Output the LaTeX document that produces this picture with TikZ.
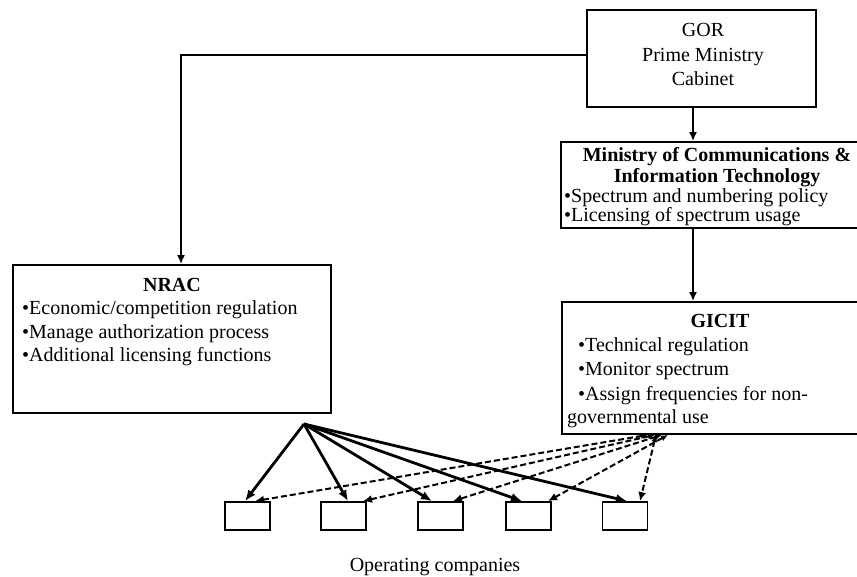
\documentclass[tikz,border=0pt]{standalone}
\usepackage{fontspec}
\setmainfont{Liberation Serif}
\usetikzlibrary{arrows.meta}
\begin{document}
\begin{tikzpicture}[x=1pt,y=-1pt,
  box/.style={draw,line width=1.8pt,inner sep=0pt},
  cbox/.style={box,minimum width=45pt,minimum height=28pt},
  t/.style={inner sep=0pt,anchor=base,font=\fontsize{20}{24}\selectfont},
  tl/.style={t,anchor=base west},
  tb/.style={t,font=\fontsize{20}{24}\selectfont\bfseries},
  arr/.style={line width=1.8pt,-{Latex[length=9pt,width=8pt]}},
  sarr/.style={line width=2.8pt,-{Latex[length=11pt,width=9pt]}},
  darr/.style={line width=2pt,dash pattern=on 6pt off 3pt,{Latex[length=7pt,width=6pt]}-{Latex[length=9pt,width=8pt]}}]
\useasboundingbox (0,0) rectangle (857,577);
\clip (0,0) rectangle (857,577);
% boxes
\node[box,minimum width=229pt,minimum height=97pt] (gor) at (701.5,58.5) {};
\node[box,minimum width=312pt,minimum height=86pt] (min) at (717,185) {};
\node[box,minimum width=316pt,minimum height=132pt] (gic) at (720,368) {};
\node[box,minimum width=318pt,minimum height=148pt] (nrac) at (172,339) {};
\node[cbox] (c1) at (247.5,516) {};
\node[cbox] (c2) at (343.5,516) {};
\node[cbox] (c3) at (440.5,516) {};
\node[cbox] (c4) at (528.5,516) {};
\node[cbox] (c5) at (625,516) {};
% texts
\node[t] (g1) at (703,37) {GOR};
\node[t] (g2) at (703,62) {Prime Ministry};
\node[t] (g3) at (703,86) {Cabinet};
\node[tb] (m1) at (717,162) {Ministry of Communications \&};
\node[tb] (m2) at (717,183) {Information Technology};
\node[tl] (m3) at (564,203) {•Spectrum and numbering policy};
\node[tl] (m4) at (564,222) {•Licensing of spectrum usage};
\node[tb] (i1) at (720,328) {GICIT};
\node[tl] (i2) at (578,352) {•Technical regulation};
\node[tl] (i3) at (578,376) {•Monitor spectrum};
\node[tl] (i4) at (578,400) {•Assign frequencies for non-};
\node[tl] (i5) at (567,423) {governmental use};
\node[tb] (n1) at (172,292) {NRAC};
\node[tl] (n2) at (22,315) {•Economic/competition regulation};
\node[tl] (n3) at (22,338) {•Manage authorization process};
\node[tl] (n4) at (22,362) {•Additional licensing functions};
\node[t] (oc) at (435,571) {Operating companies};
% connectors
\coordinate (ax) at (693,0);
\coordinate (nx) at (181,55);
\draw[arr] (gor.south -| ax) -- (min.north -| ax);
\draw[arr] (min.south -| ax) -- (gic.north -| ax);
\draw[arr] (gor.west |- nx) -| (nrac.north -| nx);
\coordinate (src) at (304,424);
\draw[sarr] (src) -- ([xshift=-2.5pt]c1.north);
\draw[sarr] (src) -- ([xshift=4.5pt]c2.north);
\draw[sarr] (src) -- ([xshift=-8.5pt]c3.north);
\draw[sarr] (src) -- ([xshift=-6.5pt]c4.north);
\draw[sarr] (src) -- ([xshift=2pt]c5.north);
\draw[darr] ([xshift=-72pt]gic.south) -- ([xshift=7.5pt]c1.north);
\draw[darr] ([xshift=-65pt]gic.south) -- ([xshift=19.5pt]c2.north);
\draw[darr] ([xshift=-58pt]gic.south) -- ([xshift=12.5pt]c3.north);
\draw[darr] ([xshift=-52pt]gic.south) -- ([xshift=19.5pt]c4.north);
\draw[darr] ([xshift=-64pt]gic.south) -- ([xshift=15pt]c5.north);
\end{tikzpicture}
\end{document}
